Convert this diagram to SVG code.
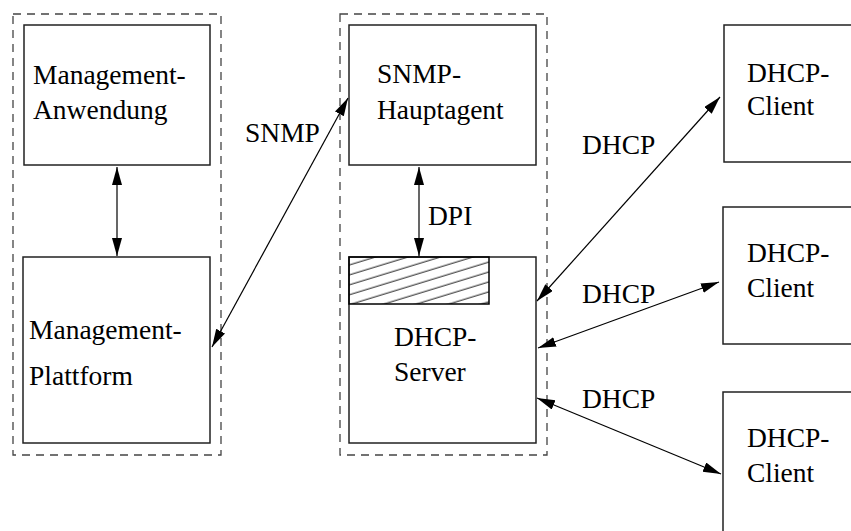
<svg xmlns="http://www.w3.org/2000/svg" width="851" height="531" viewBox="0 0 851 531">
<style>
.box{fill:none;stroke:#222;stroke-width:1.5}
.group{fill:none;stroke:#444;stroke-width:1.3;stroke-dasharray:8,6}
.conn{fill:none;stroke:#000;stroke-width:1.2;marker-start:url(#ah);marker-end:url(#ah)}
text{font-family:"Liberation Serif","Times New Roman",serif;font-size:27.5px;fill:#000}
</style>
<defs>
<marker id="ah" markerUnits="userSpaceOnUse" markerWidth="20" markerHeight="12" refX="18" refY="5" orient="auto-start-reverse" viewBox="0 0 20 12">
<path d="M0,0 L18,5 L0,10 z" fill="#000"/>
</marker>
<pattern id="hatch" patternUnits="userSpaceOnUse" width="20" height="9.5" patternTransform="rotate(-17)">
<line x1="0" y1="4" x2="20" y2="4" stroke="#000" stroke-width="0.9"/>
</pattern>
</defs>
<rect class="group" x="13" y="14" width="208" height="441"/>
<rect class="group" x="340" y="14" width="207" height="441"/>
<g id="mgmt-anwendung">
<rect class="box" x="24" y="25" width="186" height="140"/>
<text x="33" y="84">Management-</text>
<text x="33" y="119">Anwendung</text>
</g>
<g id="mgmt-plattform">
<rect class="box" x="23" y="257" width="187" height="186"/>
<text x="29" y="339">Management-</text>
<text x="29" y="385">Plattform</text>
</g>
<g id="snmp-hauptagent">
<rect class="box" x="349" y="25" width="187" height="140"/>
<text x="377" y="83">SNMP-</text>
<text x="377" y="119">Hauptagent</text>
</g>
<g id="dhcp-server">
<rect class="box" x="349" y="257" width="187" height="186"/>
<rect x="349" y="257" width="140" height="47" fill="url(#hatch)" stroke="#000" stroke-width="1.5"/>
<text x="394" y="346">DHCP-</text>
<text x="394" y="381">Server</text>
</g>
<g id="dhcp-client-1">
<rect class="box" x="724" y="25" width="140" height="137"/>
<text x="747" y="82">DHCP-</text>
<text x="747" y="115">Client</text>
</g>
<g id="dhcp-client-2">
<rect class="box" x="723" y="207" width="140" height="137"/>
<text x="747" y="262">DHCP-</text>
<text x="747" y="297">Client</text>
</g>
<g id="dhcp-client-3">
<rect class="box" x="723" y="392" width="140" height="160"/>
<text x="747" y="447">DHCP-</text>
<text x="747" y="482">Client</text>
</g>
<g id="connectors">
<line class="conn" x1="117" y1="167" x2="117" y2="256"/>
<line class="conn" x1="419" y1="167" x2="419" y2="256"/>
<line class="conn" x1="212" y1="347" x2="348" y2="98"/>
<line class="conn" x1="537" y1="301" x2="720" y2="97"/>
<line class="conn" x1="538" y1="348" x2="719" y2="282"/>
<line class="conn" x1="537" y1="398" x2="721" y2="474"/>
<text x="245" y="142">SNMP</text>
<text x="428" y="225">DPI</text>
<text x="582" y="154">DHCP</text>
<text x="582" y="303">DHCP</text>
<text x="582" y="408">DHCP</text>
</g>
</svg>
